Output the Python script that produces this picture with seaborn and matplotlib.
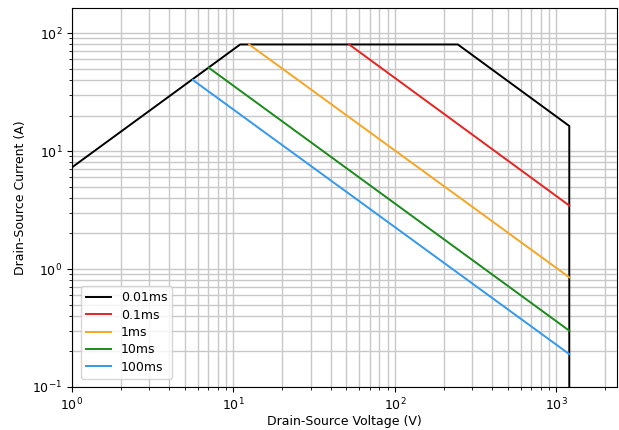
import pandas as pd
import matplotlib
matplotlib.use('Agg')
import matplotlib.pyplot as plt
import seaborn as sns

# safe operating area curves
labels = ['0.01ms', '0.1ms', '1ms', '10ms', '100ms']
colors = ['black', '#e8221f', '#f5a623', '#1a8a1a', '#3399ee']

v_001 = [1, 11, 245, 1200, 1200]
i_001 = [7.27, 80, 80, 16.3, 0.1]
v_01 = [52, 1200]
i_01 = [80, 3.45]
v_1 = [12.5, 1200]
i_1 = [80, 0.85]
v_10 = [7.0, 1200]
i_10 = [51, 0.30]
v_100 = [5.6, 1200]
i_100 = [40, 0.19]

volts = [v_001, v_01, v_1, v_10, v_100]
amps = [i_001, i_01, i_1, i_10, i_100]

rows = []
for lab, vs, cs in zip(labels, volts, amps):
    for k, (v, c) in enumerate(zip(vs, cs)):
        rows.append({'pulse': lab, 'order': k, 'V': v, 'I': c})
df = pd.DataFrame(rows)

plt.rcParams['font.size'] = 9

fig = plt.figure(figsize=(6.19, 4.30), dpi=100)
ax = fig.add_axes([0.1163, 0.1, 0.8805, 0.8814])

sns.lineplot(data=df, x='V', y='I', hue='pulse', hue_order=labels,
             palette=colors, sort=False, estimator=None, units='pulse',
             linewidth=1.4, ax=ax)

ax.set_xscale('log')
ax.set_yscale('log')
ax.set_xlim(1, 2370)
ax.set_ylim(0.1, 163)
ax.grid(True, which='both', color='#c8c8c8', linewidth=1)
ax.set_axisbelow(True)
ax.tick_params(labelsize=9)
ax.set_xlabel('Drain-Source Voltage (V)', fontsize=9, labelpad=1)
ax.set_ylabel('Drain-Source Current (A)', fontsize=9)
ax.legend(loc='lower left', bbox_to_anchor=(0.005, 0.005), title=None,
          fontsize=9, labelspacing=0.35)

fig.savefig('out.png', dpi=100)
